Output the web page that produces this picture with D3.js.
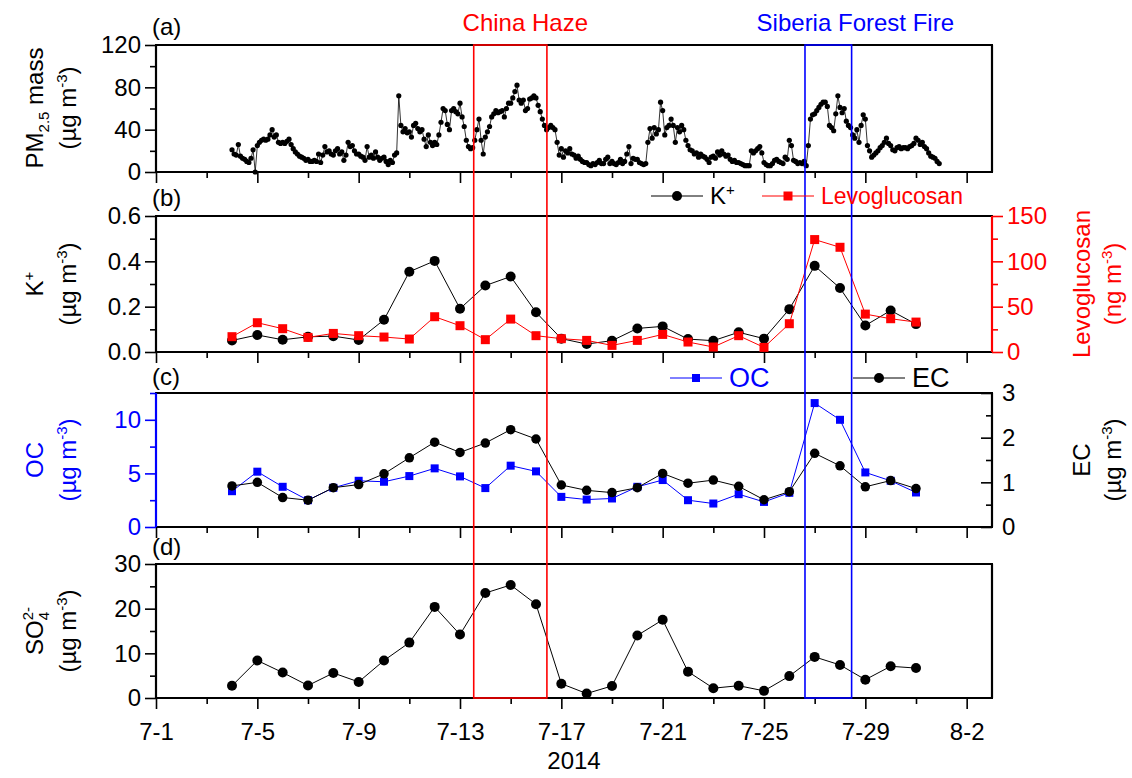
<!DOCTYPE html>
<html>
<head>
<meta charset="utf-8">
<script src="https://cdn.jsdelivr.net/npm/d3@7"></script>
<style>
body { margin: 0; background: #fff; }
svg text { font-family: "Liberation Sans", Arial, sans-serif; }
</style>
</head>
<body>
<div id="chart-area"></div>
<script>
'use strict';

// daily filter samples
let days = ['2014-07-04', '2014-07-05', '2014-07-06', '2014-07-07', '2014-07-08', '2014-07-09', '2014-07-10',
    '2014-07-11', '2014-07-12', '2014-07-13', '2014-07-14', '2014-07-15', '2014-07-16', '2014-07-17',
    '2014-07-18', '2014-07-19', '2014-07-20', '2014-07-21', '2014-07-22', '2014-07-23', '2014-07-24',
    '2014-07-25', '2014-07-26', '2014-07-27', '2014-07-28', '2014-07-29', '2014-07-30', '2014-07-31'];
let kPlus = [0.051, 0.075, 0.054, 0.067, 0.070, 0.053, 0.142, 0.354, 0.402, 0.191, 0.293, 0.333, 0.175, 0.059,
    0.035, 0.050, 0.104, 0.113, 0.057, 0.050, 0.087, 0.059, 0.189, 0.380, 0.282, 0.117, 0.183, 0.123];
let levo = [16.9, 32.3, 25.7, 16.1, 20.5, 18.0, 16.5, 14.3, 38.9, 29.0, 13.6, 36.3, 18.0, 14.7,
    12.8, 7.3, 12.8, 19.4, 11.0, 5.5, 18.0, 5.1, 31.2, 124, 115.5, 41.8, 36.7, 33.0];
let oc = [3.34, 5.16, 3.75, 2.5, 3.66, 4.31, 4.22, 4.75, 5.47, 4.72, 3.63, 5.72, 5.19, 2.81,
    2.56, 2.66, 3.75, 4.38, 2.5, 2.19, 3.06, 2.34, 3.19, 11.56, 10.0, 5.09, 4.31, 3.22];
let ec = [0.92, 1.0, 0.66, 0.6, 0.88, 0.95, 1.19, 1.55, 1.90, 1.67, 1.88, 2.18, 1.97, 0.94,
    0.82, 0.77, 0.88, 1.2, 0.98, 1.05, 0.91, 0.61, 0.79, 1.65, 1.37, 0.9, 1.04, 0.86];
let so4 = [2.75, 8.4, 5.7, 2.8, 5.6, 3.6, 8.4, 12.4, 20.4, 14.2, 23.5, 25.3, 21.0, 3.2,
    1.0, 2.7, 14.0, 17.5, 5.9, 2.2, 2.75, 1.6, 4.9, 9.2, 7.4, 4.1, 7.1, 6.7];

// PM2.5 every 2 h, one row per day from 7-4
let pmStart = '2014-07-04T00:00:00Z';
let pmStepHours = 2;
let pm25 = [
    21, 17, 16, 26, 15, 13, 12, 10, 9, 13, 21, 0,
    25, 28, 30, 31, 30, 31, 35, 40, 33, 35, 28, 27,
    28, 27, 29, 31, 26, 22, 19, 17, 15, 14, 13, 11,
    12, 10, 10, 11, 10, 17, 9, 16, 24, 19, 20, 17,
    16, 20, 22, 17, 19, 11, 16, 28, 24, 25, 20, 17,
    17, 15, 14, 11, 24, 14, 16, 13, 19, 14, 11, 13,
    14, 10, 7, 11, 9, 16, 18, 72, 44, 38, 41, 37,
    38, 33, 44, 46, 41, 38, 40, 31, 24, 35, 28, 25,
    28, 26, 35, 47, 60, 58, 45, 40, 58, 60, 57, 55,
    65, 52, 43, 30, 24, 22, 23, 30, 40, 50, 30, 17,
    33, 38, 43, 52, 55, 58, 56, 57, 58, 52, 60, 65,
    65, 70, 76, 82, 68, 65, 68, 58, 60, 69, 70, 72,
    70, 63, 57, 50, 44, 40, 42, 44, 42, 40, 28, 16,
    22, 14, 20, 18, 22, 17, 16, 13, 15, 12, 10, 9,
    9, 7, 6, 8, 7, 9, 11, 8, 8, 12, 14, 8,
    10, 8, 7, 9, 12, 8, 10, 17, 24, 8, 13, 12,
    12, 9, 8, 7, 8, 28, 41, 32, 42, 36, 40, 66,
    58, 35, 42, 44, 50, 44, 28, 42, 38, 44, 40, 30,
    25, 21, 20, 17, 18, 14, 17, 15, 14, 12, 9, 14,
    15, 13, 19, 16, 20, 17, 15, 16, 12, 10, 11, 9,
    9, 8, 7, 6, 6, 6, 20, 18, 20, 22, 24, 18,
    9, 7, 6, 6, 8, 11, 12, 10, 9, 8, 14, 12,
    30, 25, 11, 10, 8, 9, 8, 10, 6, 25, 50, 54,
    55, 58, 61, 64, 66, 66, 62, 44, 42, 39, 55, 72,
    61, 56, 60, 48, 44, 42, 35, 32, 40, 28, 44, 54,
    50, 25, 20, 14, 16, 18, 20, 23, 25, 28, 32, 27,
    25, 21, 20, 23, 24, 22, 23, 23, 22, 24, 25, 27,
    32, 30, 26, 28, 24, 22, 18, 15, 14, 13, 10, 8
];

let xMajor = ['2014-07-01', '2014-07-05', '2014-07-09', '2014-07-13', '2014-07-17',
    '2014-07-21', '2014-07-25', '2014-07-29', '2014-08-02'];
let xMinor = ['2014-07-03', '2014-07-07', '2014-07-11', '2014-07-15', '2014-07-19',
    '2014-07-23', '2014-07-27', '2014-07-31'];
let hazePeriod = ['2014-07-13T13:00:00Z', '2014-07-16T10:20:00Z'];
let firePeriod = ['2014-07-26T14:50:00Z', '2014-07-28T11:00:00Z'];

let W = 1132, H = 778;
let left = 156, right = 992;
let panels = {
    a: [45, 172],
    b: [216, 352],
    c: [393, 527],
    d: [564, 698],
};
let RED = '#ff0000', BLUE = '#0000ff';
let FS = 24;

let svg = d3.select('#chart-area').append('svg')
    .attr('width', W)
    .attr('height', H);

let parseDay = d3.utcParse('%Y-%m-%d');
let x = d3.scaleUtc()
    .domain([parseDay('2014-07-01'), parseDay('2014-08-03')])
    .range([left, right]);

let dayDates = days.map(parseDay);
let pmTimes = pm25.map((v, i) => new Date(Date.parse(pmStart) + i * pmStepHours * 3600e3));

function styleAxis(ax, colour, size) {
    ax.attr('font-size', null).attr('font-family', null);
    ax.select('.domain').remove();
    ax.selectAll('line').attr('stroke', colour).attr('stroke-width', 1.6);
    ax.selectAll('text').attr('fill', colour).attr('font-size', size || FS);
}

function xAxis(p, labels) {
    let y0 = panels[p][1];
    let g = svg.append('g').attr('transform', 'translate(0,' + y0 + ')');
    g.call(d3.axisBottom(x).tickValues(xMajor.map(parseDay)).tickSize(11).tickPadding(14)
        .tickFormat(labels ? d3.utcFormat('%-m-%-d') : ''));
    styleAxis(g, '#000');
    let m = svg.append('g').attr('transform', 'translate(0,' + y0 + ')');
    m.call(d3.axisBottom(x).tickValues(xMinor.map(parseDay)).tickSize(6).tickFormat(''));
    styleAxis(m, '#000');
}

function yAxis(p, scale, major, minor, side, colour, fmt, inward) {
    let xp = side === 'left' ? left : right;
    let mk = side === 'left' ? d3.axisLeft : d3.axisRight;
    let g = svg.append('g').attr('transform', 'translate(' + xp + ',0)');
    g.call(mk(scale).tickValues(major).tickSize(inward ? -11 : 11)
        .tickPadding(inward ? 10 : 4).tickFormat(fmt));
    styleAxis(g, colour);
    let m = svg.append('g').attr('transform', 'translate(' + xp + ',0)');
    m.call(mk(scale).tickValues(minor).tickSize(inward ? -6 : 6).tickFormat(''));
    styleAxis(m, colour);
}

function frame(p, leftCol, rightCol) {
    let [t, b] = panels[p];
    let f = svg.append('g').attr('stroke-width', 2.2).attr('fill', 'none');
    f.append('line').attr('x1', left - 1).attr('x2', right + 1).attr('y1', t).attr('y2', t).attr('stroke', '#000');
    f.append('line').attr('x1', left - 1).attr('x2', right + 1).attr('y1', b).attr('y2', b).attr('stroke', '#000');
    f.append('line').attr('x1', left).attr('x2', left).attr('y1', t).attr('y2', b).attr('stroke', leftCol);
    f.append('line').attr('x1', right).attr('x2', right).attr('y1', t).attr('y2', b).attr('stroke', rightCol);
}

// rich text with sub/superscripts; parts: {t, shift, size, dx}
function richText(g, parts, baseSize) {
    let cur = 0;
    parts.forEach((p) => {
        let s = g.append('tspan').text(p.t);
        let shift = p.shift || 0;
        if (shift !== cur) s.attr('dy', shift - cur);
        if (p.dx) s.attr('dx', p.dx);
        s.attr('font-size', p.size || baseSize);
        cur = shift;
    });
}

function vTitle(xb, yc, parts, colour, size) {
    let t = svg.append('text')
        .attr('transform', 'translate(' + xb + ',' + yc + ') rotate(-90)')
        .attr('text-anchor', 'middle')
        .attr('fill', colour)
        .attr('font-size', size || FS);
    richText(t, parts, size || FS);
}

let ugm3 = [{ t: '(\u00b5g m' }, { t: '-3', shift: -9, size: 15 }, { t: ')', shift: 0 }];

// ---- panel (a) PM2.5
let ya = d3.scaleLinear().domain([0, 120]).range([panels.a[1], panels.a[0]]);
frame('a', '#000', '#000');
xAxis('a', false);
yAxis('a', ya, [0, 40, 80, 120], [20, 60, 100], 'left', '#000', d3.format('d'));

svg.append('path')
    .datum(pm25)
    .attr('fill', 'none')
    .attr('stroke', '#000')
    .attr('stroke-width', 0.8)
    .attr('d', d3.line().x((d, i) => x(pmTimes[i])).y((d) => ya(d)));
svg.append('g').selectAll('circle')
    .data(pm25)
    .enter()
    .append('circle')
        .attr('cx', (d, i) => x(pmTimes[i]))
        .attr('cy', (d) => ya(d))
        .attr('r', 2.6)
        .attr('fill', '#000');

// ---- panel (b) K+ and levoglucosan
let ybL = d3.scaleLinear().domain([0, 0.6]).range([panels.b[1], panels.b[0]]);
let ybR = d3.scaleLinear().domain([0, 150]).range([panels.b[1], panels.b[0]]);
frame('b', '#000', RED);
xAxis('b', false);
yAxis('b', ybL, [0, 0.2, 0.4, 0.6], [0.1, 0.3, 0.5], 'left', '#000', d3.format('.1f'));
yAxis('b', ybR, [0, 50, 100, 150], [25, 75, 125], 'right', RED, d3.format('d'));

function series(vals, scale, colour, shape, size) {
    svg.append('path')
        .datum(vals)
        .attr('fill', 'none')
        .attr('stroke', colour)
        .attr('stroke-width', 1)
        .attr('d', d3.line().x((d, i) => x(dayDates[i])).y((d) => scale(d)));
    let g = svg.append('g');
    if (shape === 'circle') {
        g.selectAll('circle').data(vals).enter().append('circle')
            .attr('cx', (d, i) => x(dayDates[i]))
            .attr('cy', (d) => scale(d))
            .attr('r', size / 2)
            .attr('fill', colour);
    } else {
        g.selectAll('rect').data(vals).enter().append('rect')
            .attr('x', (d, i) => x(dayDates[i]) - size / 2)
            .attr('y', (d) => scale(d) - size / 2)
            .attr('width', size)
            .attr('height', size)
            .attr('fill', colour);
    }
}

series(kPlus, ybL, '#000', 'circle', 10);
series(levo, ybR, RED, 'square', 9);

// ---- panel (c) OC and EC
let ycL = d3.scaleLinear().domain([0, 12.5]).range([panels.c[1], panels.c[0]]);
let ycR = d3.scaleLinear().domain([0, 3]).range([panels.c[1], panels.c[0]]);
frame('c', BLUE, '#000');
xAxis('c', false);
yAxis('c', ycL, [0, 5, 10], [2.5, 7.5, 12.5], 'left', BLUE, d3.format('d'));
yAxis('c', ycR, [0, 1, 2, 3], [0.5, 1.5, 2.5], 'right', '#000', d3.format('d'), true);
series(oc, ycL, BLUE, 'square', 8);
series(ec, ycR, '#000', 'circle', 9.5);

// ---- panel (d) SO4
let yd = d3.scaleLinear().domain([0, 30]).range([panels.d[1], panels.d[0]]);
frame('d', '#000', '#000');
xAxis('d', true);
yAxis('d', yd, [0, 10, 20, 30], [5, 15, 25], 'left', '#000', d3.format('d'));
series(so4, yd, '#000', 'circle', 10);

// ---- event boxes
function eventBox(period, colour) {
    let x0 = x(new Date(period[0])), x1 = x(new Date(period[1]));
    svg.append('rect')
        .attr('x', x0).attr('y', panels.a[0])
        .attr('width', x1 - x0).attr('height', panels.d[1] - panels.a[0])
        .attr('fill', 'none').attr('stroke', colour).attr('stroke-width', 1.6);
    return (x0 + x1) / 2;
}
let hazeMid = eventBox(hazePeriod, RED);
let fireMid = eventBox(firePeriod, BLUE);
svg.append('text').attr('x', hazeMid + 15).attr('y', 31).attr('text-anchor', 'middle')
    .attr('font-size', FS).attr('fill', RED).text('China Haze');
svg.append('text').attr('x', fireMid + 27).attr('y', 31).attr('text-anchor', 'middle')
    .attr('font-size', FS).attr('fill', BLUE).text('Siberia Forest Fire');

// ---- panel letters
[['(a)', 35], ['(b)', 206], ['(c)', 385], ['(d)', 555]].forEach((d) => {
    svg.append('text').attr('x', 152).attr('y', d[1]).attr('font-size', FS).text(d[0]);
});

// ---- x title
svg.append('text').attr('x', (left + right) / 2).attr('y', 769).attr('text-anchor', 'middle')
    .attr('font-size', FS).text('2014');

// ---- y titles
vTitle(43, 108, [{ t: 'PM' }, { t: '2.5', shift: 6, size: 15 }, { t: ' mass', shift: 0 }], '#000');
vTitle(76, 108, ugm3, '#000');
vTitle(43, 284, [{ t: 'K' }, { t: '+', shift: -9, size: 15 }], '#000');
vTitle(76, 284, ugm3, '#000');
vTitle(43, 460, [{ t: 'OC' }], BLUE);
vTitle(76, 460, ugm3, BLUE);
vTitle(43, 631, [{ t: 'SO' }, { t: '4', shift: 6, size: 15 }, { t: '2-', shift: -10, size: 15, dx: -8.3 }], '#000');
vTitle(76, 631, ugm3, '#000');
vTitle(1090, 284, [{ t: 'Levoglucosan' }], RED);
vTitle(1121, 284, [{ t: '(ng m' }, { t: '-3', shift: -9, size: 15 }, { t: ')', shift: 0 }], RED);
vTitle(1090, 460, [{ t: 'EC' }], '#000');
vTitle(1121, 460, ugm3, '#000');

// ---- legends
function legendItem(x0, y0, colour, shape, size, label, fs, sup) {
    svg.append('line').attr('x1', x0).attr('x2', x0 + 52).attr('y1', y0).attr('y2', y0)
        .attr('stroke', colour).attr('stroke-width', 1);
    if (shape === 'circle') {
        svg.append('circle').attr('cx', x0 + 26).attr('cy', y0).attr('r', size / 2).attr('fill', colour);
    } else {
        svg.append('rect').attr('x', x0 + 26 - size / 2).attr('y', y0 - size / 2)
            .attr('width', size).attr('height', size).attr('fill', colour);
    }
    let t = svg.append('text').attr('x', x0 + 59).attr('y', y0 + fs * 0.35)
        .attr('font-size', fs).attr('fill', colour);
    let parts = [{ t: label }];
    if (sup) parts.push({ t: sup, shift: -9, size: 15 });
    richText(t, parts, fs);
}
legendItem(651, 196, '#000', 'circle', 10, 'K', 24, '+');
legendItem(762, 196, RED, 'square', 9, 'Levoglucosan', 23);
legendItem(670, 378, BLUE, 'square', 8, 'OC', 27);
legendItem(853, 378, '#000', 'circle', 10, 'EC', 27);
</script>
</body>
</html>
